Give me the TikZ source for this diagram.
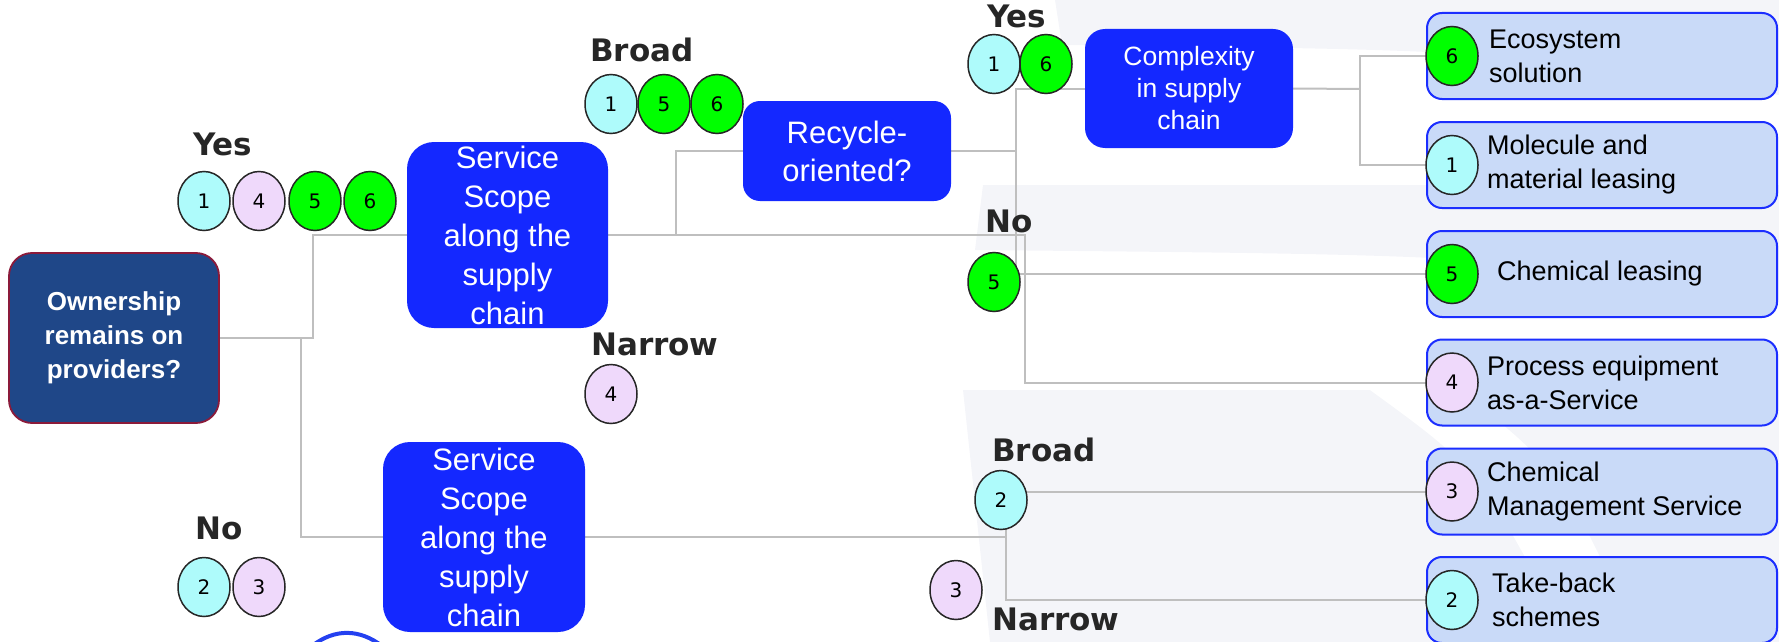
\documentclass[tikz,border=0pt]{standalone}
\usepackage{fontspec}
\setmainfont{Liberation Sans}
\newfontfamily\lblfont{DejaVu Sans}
\usetikzlibrary{shapes.geometric}
\definecolor{linegray}{HTML}{BFBFBF}
\definecolor{svcblue}{HTML}{1428FF}
\definecolor{ownblue}{HTML}{1F4788}
\definecolor{ownborder}{HTML}{8B1A3A}
\definecolor{leafblue}{HTML}{C9DAF8}
\definecolor{leafborder}{HTML}{1B2EFF}
\definecolor{ccyan}{HTML}{AEFBFB}
\definecolor{clav}{HTML}{EFD9FB}
\definecolor{cgreen}{HTML}{00FF00}
\definecolor{lbl}{HTML}{262626}
\definecolor{wm}{HTML}{F4F5F9}
\definecolor{logoblue}{HTML}{2440F0}
\pgfdeclarelayer{wmlayer}
\pgfdeclarelayer{linelayer}
\pgfsetlayers{wmlayer,linelayer,main}
\tikzset{
  conn/.style={draw=linegray, line width=2pt},
  svc/.style={rectangle, rounded corners=27pt, fill=svcblue, text=white, align=center,
    inner sep=0pt, font=\fontsize{31}{39}\selectfont},
  ownbox/.style={rectangle, rounded corners=23pt, fill=ownblue, draw=ownborder, line width=1.8pt,
    text=white, align=center, inner sep=0pt, font=\bfseries\fontsize{26}{34}\selectfont,
    minimum width=210pt, minimum height=170pt},
  leaf/.style={rectangle, rounded corners=15pt, fill=leafblue, draw=leafborder, line width=2pt,
    minimum width=350pt, minimum height=86pt, inner sep=0pt},
  leaftext/.style={anchor=west, align=left, inner sep=0pt, text=black,
    font=\fontsize{27}{34}\selectfont},
  bub/.style={ellipse, draw=lbl, line width=1.5pt, minimum width=52pt, minimum height=59pt,
    inner sep=0pt, font=\lblfont\fontsize{20}{20}\selectfont},
  bc/.style={bub, fill=ccyan},
  bl/.style={bub, fill=clav},
  bg/.style={bub, fill=cgreen},
  branch/.style={anchor=base west, inner sep=0pt, text=lbl,
    font=\lblfont\bfseries\fontsize{31}{31}\selectfont},
}
\begin{document}
\begin{tikzpicture}[x=1pt,y=-1pt]
\useasboundingbox (0,0) rectangle (1779,642);
% watermark
\begin{pgfonlayer}{wmlayer}
\fill[wm] (1055,0) -- (1779,0) -- (1779,95) .. controls (1500,50) .. (1062,45) -- cycle;
\fill[wm] (983,185) -- (1779,185) -- (1779,300) .. controls (1500,255) .. (975,250) -- cycle;
\fill[wm] (963,390) -- (1779,390) -- (1779,642) -- (990,642) -- cycle;
\fill[white] (1370,390) .. controls (1480,470) .. (1570,642) -- (1640,642) .. controls (1560,470) .. (1460,390) -- cycle;
\end{pgfonlayer}
% decision boxes
\node[ownbox] (own) at (114,338) {Ownership\\remains on\\providers?};
\node[svc, minimum width=201pt, minimum height=186pt] (ss1) at (507.5,235) {Service\\Scope\\along the\\supply\\chain};
\node[svc, minimum width=202pt, minimum height=190pt] (ss2) at (484,537) {Service\\Scope\\along the\\supply\\chain};
\node[svc, rounded corners=17pt, minimum width=208pt, minimum height=100pt, font=\fontsize{31}{38}\selectfont] (rec) at (847,151) {Recycle-\\oriented?};
\node[svc, rounded corners=20pt, minimum width=208pt, minimum height=119pt, font=\fontsize{26.5}{32}\selectfont] (cx) at (1189,88.5) {Complexity\\in supply\\chain};
% leaf boxes
\node[leaf] (b1) at (1602,56) {};
\node[leaf] (b2) at (1602,165) {};
\node[leaf] (b3) at (1602,274) {};
\node[leaf] (b4) at (1602,382.5) {};
\node[leaf] (b5) at (1602,491.5) {};
\node[leaf] (b6) at (1602,600) {};
\node[bg] (k1) at (1452,56) {6};
\node[bc] (k2) at (1452,165) {1};
\node[bg] (k3) at (1452,274) {5};
\node[bl] (k4) at (1452,382.5) {4};
\node[bl] (k5) at (1452,491.5) {3};
\node[bc] (k6) at (1452,600) {2};
\node[leaftext] (t1) at (1489,56) {Ecosystem\\solution};
\node[leaftext] (t2) at (1487,165) {Molecule and\\material leasing};
\node[leaftext] (t3) at (1497,274) {Chemical leasing};
\node[leaftext] (t4) at (1487,382.5) {Process equipment\\as-a-Service};
\node[leaftext] (t5) at (1487,491.5) {Chemical\\Management Service};
\node[leaftext] (t6) at (1492,600) {Take-back\\schemes};
% branch labels
\node[branch] (lyes1) at (193,155) {Yes};
\node[branch] (lno1) at (195,539) {No};
\node[branch] (lbroad1) at (590,62) {Broad};
\node[branch] (lnarrow1) at (591,355) {Narrow};
\node[branch] (lyes2) at (987,28) {Yes};
\node[branch] (lno2) at (985,232) {No};
\node[branch] (lbroad2) at (992,461) {Broad};
\node[branch] (lnarrow2) at (992,630) {Narrow};
% bubbles
\node[bc] (y1) at (204,201) {1};
\node[bl] (y4) at (259,201) {4};
\node[bg] (y5) at (315,201) {5};
\node[bg] (y6) at (370,201) {6};
\node[bc] (n2) at (204,587) {2};
\node[bl] (n3) at (259,587) {3};
\node[bc] (br1) at (611,104) {1};
\node[bg] (br5) at (664,104) {5};
\node[bg] (br6) at (717,104) {6};
\node[bl] (na4) at (611,394) {4};
\node[bc] (ye1) at (994,64) {1};
\node[bg] (ye6) at (1046,64) {6};
\node[bg] (no5) at (994,282) {5};
\node[bc] (bb2) at (1001,500) {2};
\node[bl] (nn3) at (956,590) {3};
% logo fragment
\draw[logoblue, line width=4pt] (312,646) .. controls (335,628) and (360,629) .. (382,646);
% junctions
\coordinate (ja) at (313,338);
\coordinate (jb) at (301,338);
\coordinate (jc) at (1025,235);
\coordinate (jd) at (676,235);
\coordinate (je) at (1016,151);
\coordinate (jh) at (1360,89);
\coordinate (ji) at (1006,537);
\begin{pgfonlayer}{linelayer}
\draw[conn] (own.east) -- (ja) |- (ss1.west);
\draw[conn] (jb) |- (ss2.west);
\draw[conn] (ss1.east) -- (jc) |- (b4.west);
\draw[conn] (jd) |- (rec.west);
\draw[conn] (rec.east) -- (je);
\draw[conn] (cx.west) -| (je) |- (b3.west);
\draw[conn] (cx.east) -- (jh);
\draw[conn] (b1.west) -| (jh) |- (b2.west);
\draw[conn] (ss2.east) -- (ji);
\draw[conn] (b5.west) -| (ji) |- (b6.west);
\end{pgfonlayer}
\end{tikzpicture}
\end{document}
